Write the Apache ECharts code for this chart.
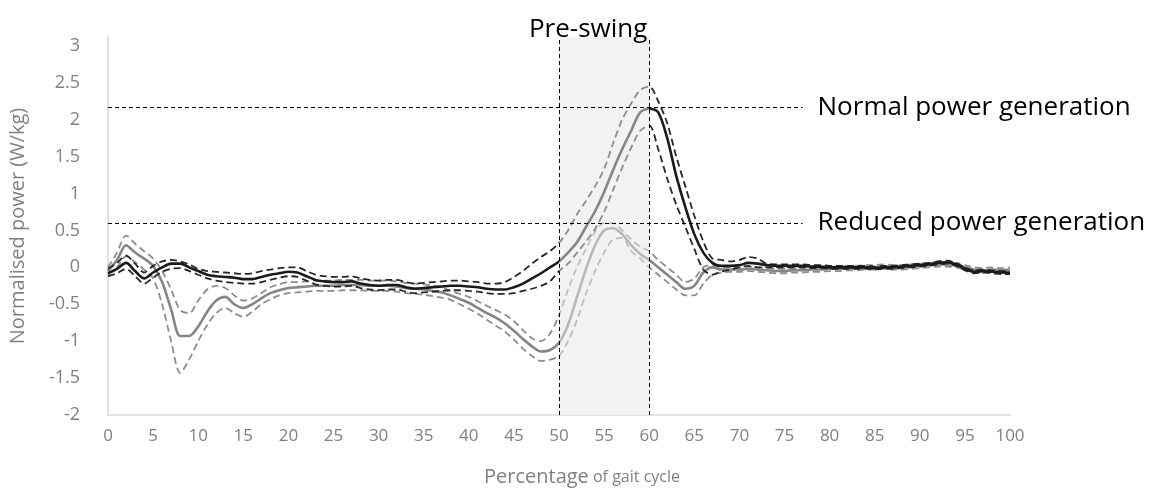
<!DOCTYPE html>
<html>
<head>
<meta charset="utf-8">
<script src="https://cdn.jsdelivr.net/npm/echarts@6/dist/echarts.min.js"></script>
<style>
  html, body { margin: 0; padding: 0; background: #fff; }
  #chart { width: 1163px; height: 495px; }
</style>
</head>
<body>
<div id="chart"></div>
<script>
// percentage of gait cycle
var pct = [];
for (var i = 0; i <= 100; i++) pct.push(i);

var xTicks = [0, 5, 10, 15, 20, 25, 30, 35, 40, 45, 50, 55, 60, 65, 70, 75, 80, 85, 90, 95, 100];
var yTicks = [-2, -1.5, -1, -0.5, 0, 0.5, 1, 1.5, 2, 2.5, 3];

// dark group (mean and +/- band)
var blackMean = [
  -0.08, -0.02, 0.06, -0.05, -0.15, -0.07, 0.00, 0.05, 0.05, 0.00,
  -0.05, -0.10, -0.12, -0.13, -0.14, -0.16, -0.16, -0.13, -0.10, -0.08,
  -0.06, -0.07, -0.12, -0.17, -0.19, -0.20, -0.20, -0.19, -0.22, -0.24,
  -0.25, -0.24, -0.24, -0.27, -0.29, -0.28, -0.27, -0.26, -0.25, -0.25,
  -0.26, -0.27, -0.29, -0.30, -0.30, -0.27, -0.22, -0.15, -0.08, 0.00,
  0.08, 0.20, 0.34, 0.55, 0.76, 1.02, 1.32, 1.60, 1.85, 2.10,
  2.15, 2.10, 1.75, 1.24, 0.82, 0.45, 0.20, 0.06, 0.02, 0.02,
  0.03, 0.06, 0.05, 0.03, 0.02, 0.02, 0.02, 0.02, 0.01, 0.01,
  0.00, 0.00, 0.00, 0.00, 0.00, -0.01, 0.00, 0.00, 0.01, 0.02,
  0.03, 0.04, 0.06, 0.07, 0.04, -0.02, -0.06, -0.05, -0.06, -0.07,
  -0.07
];
var blackUpper = [
  -0.02, 0.06, 0.16, 0.05, -0.07, 0.02, 0.08, 0.10, 0.08, 0.04,
  -0.02, -0.05, -0.06, -0.07, -0.08, -0.09, -0.08, -0.05, -0.03, -0.01,
  0.00, 0.00, -0.05, -0.10, -0.12, -0.13, -0.13, -0.12, -0.15, -0.17,
  -0.18, -0.17, -0.17, -0.20, -0.22, -0.21, -0.20, -0.19, -0.18, -0.18,
  -0.19, -0.20, -0.22, -0.22, -0.20, -0.13, -0.05, 0.05, 0.14, 0.22,
  0.33, 0.50, 0.72, 0.90, 1.10, 1.33, 1.68, 2.00, 2.22, 2.40,
  2.45, 2.25, 1.95, 1.50, 1.10, 0.70, 0.35, 0.12, 0.10, 0.08,
  0.10, 0.14, 0.12, 0.05, 0.04, 0.04, 0.04, 0.04, 0.03, 0.03,
  0.02, 0.02, 0.02, 0.02, 0.02, 0.01, 0.02, 0.02, 0.03, 0.04,
  0.05, 0.06, 0.08, 0.09, 0.06, 0.00, -0.04, -0.03, -0.04, -0.05,
  -0.05
];
var blackLower = [
  -0.12, -0.08, -0.02, -0.12, -0.22, -0.14, -0.06, -0.02, -0.01, -0.05,
  -0.10, -0.15, -0.18, -0.20, -0.21, -0.22, -0.22, -0.20, -0.17, -0.14,
  -0.12, -0.13, -0.18, -0.23, -0.25, -0.26, -0.26, -0.25, -0.28, -0.30,
  -0.31, -0.30, -0.30, -0.33, -0.35, -0.34, -0.33, -0.32, -0.31, -0.31,
  -0.32, -0.33, -0.35, -0.36, -0.36, -0.35, -0.32, -0.29, -0.25, -0.19,
  -0.05, 0.05, 0.20, 0.35, 0.52, 0.75, 1.05, 1.35, 1.62, 1.85,
  1.92, 1.60, 1.20, 0.85, 0.55, 0.25, -0.03, -0.10, -0.06, -0.03,
  0.00, 0.02, 0.00, 0.00, 0.00, 0.00, 0.00, 0.00, -0.01, -0.01,
  -0.02, -0.02, -0.02, -0.02, -0.02, -0.03, -0.02, -0.02, -0.01, 0.00,
  0.01, 0.02, 0.04, 0.05, 0.02, -0.04, -0.08, -0.07, -0.08, -0.09,
  -0.09
];

// grey group (mean and +/- band)
var greyMean = [
  -0.05, 0.10, 0.30, 0.20, 0.12, 0.02, -0.20, -0.57, -0.93, -0.93,
  -0.80, -0.60, -0.45, -0.40, -0.50, -0.55, -0.50, -0.42, -0.35, -0.31,
  -0.28, -0.27, -0.26, -0.25, -0.25, -0.25, -0.24, -0.24, -0.24, -0.25,
  -0.25, -0.25, -0.26, -0.28, -0.29, -0.30, -0.32, -0.34, -0.38, -0.43,
  -0.48, -0.55, -0.62, -0.68, -0.76, -0.86, -0.97, -1.07, -1.14, -1.12,
  -1.02, -0.78, -0.40, -0.02, 0.30, 0.50, 0.53, 0.45, 0.30, 0.18,
  0.10, 0.00, -0.10, -0.20, -0.29, -0.25, -0.07, 0.00, -0.03, -0.03,
  -0.03, -0.02, -0.03, -0.04, -0.05, -0.05, -0.04, -0.04, -0.03, -0.03,
  -0.02, -0.02, -0.01, -0.01, 0.00, 0.00, 0.01, 0.00, 0.00, 0.01,
  0.02, 0.03, 0.04, 0.04, 0.03, 0.00, -0.03, -0.04, -0.03, -0.04,
  -0.03
];
var greyUpper = [
  0.00, 0.20, 0.43, 0.32, 0.22, 0.12, -0.05, -0.30, -0.58, -0.62,
  -0.45, -0.30, -0.25, -0.28, -0.38, -0.45, -0.42, -0.35, -0.27, -0.23,
  -0.20, -0.20, -0.19, -0.18, -0.18, -0.18, -0.17, -0.17, -0.17, -0.18,
  -0.18, -0.18, -0.19, -0.21, -0.22, -0.23, -0.25, -0.27, -0.32, -0.36,
  -0.40, -0.46, -0.52, -0.58, -0.64, -0.73, -0.85, -0.96, -1.00, -0.90,
  -0.65, -0.30, 0.00, 0.25, 0.48, 0.60, 0.60, 0.50, 0.38, 0.28,
  0.22, 0.10, 0.00, -0.10, -0.20, -0.15, 0.00, 0.03, 0.00, 0.00,
  0.00, 0.01, 0.00, -0.01, -0.02, -0.02, -0.01, -0.01, 0.00, 0.00,
  0.01, 0.01, 0.02, 0.02, 0.03, 0.03, 0.04, 0.03, 0.03, 0.04,
  0.05, 0.06, 0.07, 0.07, 0.06, 0.03, 0.00, -0.01, 0.00, -0.01,
  0.00
];
var greyLower = [
  -0.10, 0.00, 0.15, 0.07, -0.03, -0.15, -0.50, -1.00, -1.43, -1.25,
  -1.00, -0.78, -0.62, -0.55, -0.62, -0.67, -0.60, -0.50, -0.43, -0.38,
  -0.35, -0.34, -0.33, -0.32, -0.32, -0.32, -0.31, -0.31, -0.31, -0.32,
  -0.32, -0.32, -0.33, -0.35, -0.36, -0.37, -0.39, -0.41, -0.44, -0.50,
  -0.56, -0.63, -0.71, -0.79, -0.87, -0.98, -1.10, -1.20, -1.27, -1.25,
  -1.20, -1.00, -0.71, -0.35, -0.05, 0.20, 0.38, 0.40, 0.22, 0.12,
  0.00, -0.10, -0.20, -0.30, -0.38, -0.38, -0.22, -0.10, -0.07, -0.06,
  -0.06, -0.05, -0.06, -0.07, -0.08, -0.08, -0.07, -0.07, -0.06, -0.06,
  -0.05, -0.05, -0.04, -0.04, -0.03, -0.03, -0.02, -0.03, -0.03, -0.02,
  -0.01, 0.00, 0.01, 0.01, 0.00, -0.03, -0.06, -0.07, -0.06, -0.07,
  -0.06
];

// annotation levels
var phaseStart = 50, phaseEnd = 60;
var normalLevel = 2.17, reducedLevel = 0.6;
var refLineEnd = 77;

function pairs(vals) {
  return pct.map(function (x, i) { return [x, vals[i]]; });
}

document.addEventListener('DOMContentLoaded', function () {
  var chart = echarts.init(document.getElementById('chart'));

  var dash = { width: 1.8, type: [7, 4] };
  var solid = { width: 2.6 };
  var noteText = { color: '#000', fontSize: 26, fontFamily: 'Open Sans' };

  // colour per phase: before / inside / after pre-swing
  function phaseMap(idx, outside, inside) {
    return {
      type: 'piecewise', show: false, dimension: 0, seriesIndex: idx,
      pieces: [
        { lt: phaseStart, color: outside },
        { gte: phaseStart, lte: phaseEnd, color: inside },
        { gt: phaseEnd, color: outside }
      ]
    };
  }

  var option = {
    animation: false,
    grid: { left: 108, right: 153, top: 37, bottom: 80 },
    xAxis: {
      type: 'value', min: 0, max: 100, interval: 5,
      axisLine: { show: true, onZero: false, lineStyle: { color: '#d9d9d9', width: 1.5 } },
      axisTick: { show: false },
      splitLine: { show: false },
      axisLabel: { color: '#808080', fontSize: 17, fontFamily: 'Open Sans', margin: 13,
        formatter: function (v) { return xTicks.indexOf(v) >= 0 ? String(v) : ''; } },
      name: '{a|Percentage}{b| of gait cycle}',
      nameLocation: 'middle', nameGap: 52,
      nameTextStyle: {
        padding: [0, 0, 0, 46],
        rich: {
          a: { fontSize: 20, color: '#808080', fontFamily: 'Open Sans' },
          b: { fontSize: 16, color: '#808080', fontFamily: 'Open Sans' }
        }
      }
    },
    yAxis: {
      type: 'value', min: -2, max: 3.12, interval: 0.5,
      axisLine: { show: true, lineStyle: { color: '#d9d9d9', width: 1.5 } },
      axisTick: { show: false },
      splitLine: { show: false },
      axisLabel: { color: '#808080', fontSize: 18, fontFamily: 'Open Sans', margin: 28,
        formatter: function (v) {
          for (var k = 0; k < yTicks.length; k++) if (Math.abs(yTicks[k] - v) < 1e-6) return String(yTicks[k]);
          return '';
        } },
      name: 'Normalised power (W/kg)',
      nameLocation: 'middle', nameGap: 80,
      nameTextStyle: { color: '#808080', fontSize: 20, fontFamily: 'Open Sans' }
    },
    visualMap: [
      phaseMap([0, 1], '#8c8c8c', '#bdbdbd'),
      phaseMap(2, '#858585', '#b8b8b8'),
      phaseMap([3, 4], '#262626', '#8c8c8c'),
      phaseMap(5, '#1a1a1a', '#858585')
    ],
    series: [
      { name: 'grey upper', type: 'line', data: pairs(greyUpper), showSymbol: false, smooth: 0.3, lineStyle: dash },
      { name: 'grey lower', type: 'line', data: pairs(greyLower), showSymbol: false, smooth: 0.3, lineStyle: dash },
      { name: 'grey mean', type: 'line', data: pairs(greyMean), showSymbol: false, smooth: 0.3, lineStyle: solid },
      { name: 'black upper', type: 'line', data: pairs(blackUpper), showSymbol: false, smooth: 0.3, lineStyle: dash },
      { name: 'black lower', type: 'line', data: pairs(blackLower), showSymbol: false, smooth: 0.3, lineStyle: dash },
      { name: 'black mean', type: 'line', data: pairs(blackMean), showSymbol: false, smooth: 0.3, lineStyle: solid },
      {
        name: 'annotations', type: 'line', data: [],
        markArea: {
          silent: true,
          itemStyle: { color: '#f2f2f2' },
          label: Object.assign({ show: true, position: 'top', distance: 0, offset: [-16, 6] }, noteText),
          data: [[{ name: 'Pre-swing', xAxis: phaseStart }, { xAxis: phaseEnd }]]
        },
        markLine: {
          silent: true, symbol: ['none', 'none'],
          lineStyle: { color: '#000', width: 1, type: [4, 3] },
          label: { show: false },
          data: [
            { xAxis: phaseStart },
            { xAxis: phaseEnd },
            [{ coord: [0, normalLevel] },
             { coord: [refLineEnd, normalLevel],
               label: Object.assign({ show: true, position: 'end', distance: 15, formatter: 'Normal power generation' }, noteText) }],
            [{ coord: [0, reducedLevel] },
             { coord: [refLineEnd, reducedLevel],
               label: Object.assign({ show: true, position: 'end', distance: 15, formatter: 'Reduced power generation' }, noteText) }]
          ]
        }
      }
    ]
  };

  chart.setOption(option);
  window.addEventListener('resize', function () { chart.resize(); });
});
</script>
</body>
</html>
